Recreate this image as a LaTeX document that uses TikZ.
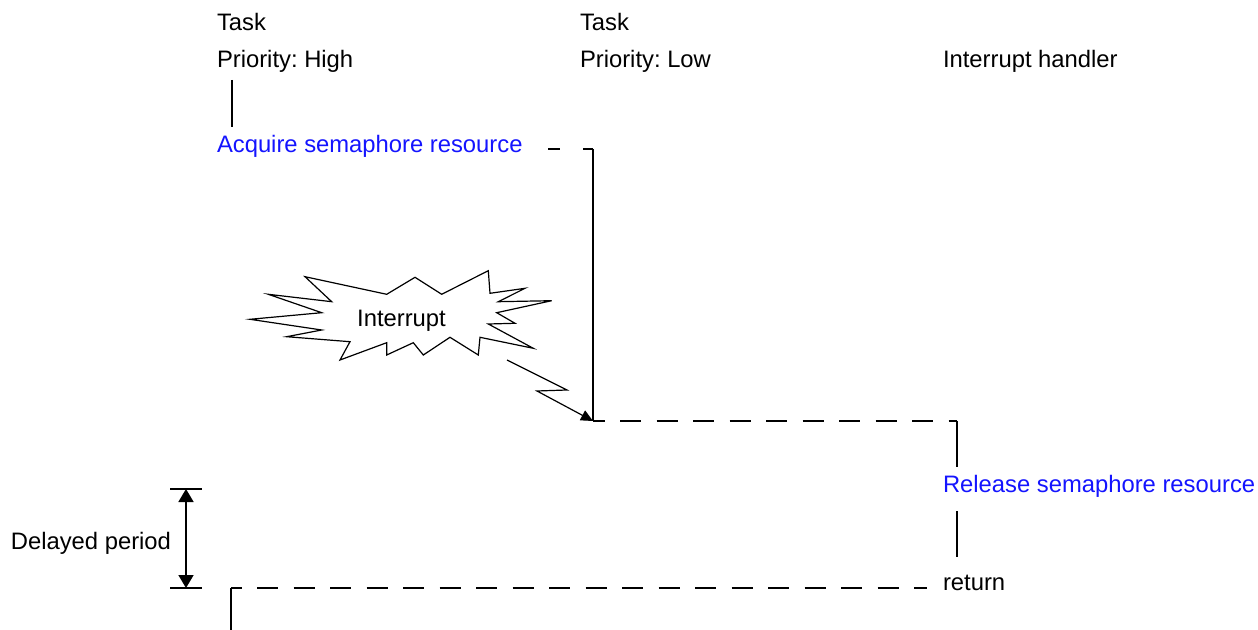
\documentclass[tikz,border=0pt]{standalone}
\usepackage{fontspec}
\setmainfont{Liberation Sans}
\usetikzlibrary{arrows.meta}
\definecolor{semblue}{RGB}{20,20,255}
\frenchspacing
\begin{document}
\begin{tikzpicture}[x=0.5pt,y=-0.5pt,
  lbl/.style={anchor=base west, inner sep=0pt, outer sep=0pt, font=\fontsize{11.9}{14}\selectfont},
  sem/.style={lbl, text=semblue},
  solidline/.style={line width=1pt},
  dashline/.style={line width=1pt, dash pattern=on 10.5pt off 7.75pt},
  thinline/.style={line width=0.6pt, line join=miter},
  dimarrow/.style={line width=0.9pt, {Triangle[width=7.5pt,length=6.5pt]}-{Triangle[width=7.5pt,length=6.5pt]}},
  bolt/.style={line width=0.6pt, -{Triangle[width=5.5pt,length=6pt]}}
]
\useasboundingbox (0,0) rectangle (1258,630);

% column headers
\node[lbl] (task1) at (217,31) {Task};
\node[lbl] (prio1) at (217,68) {Priority: High};
\node[lbl] (task2) at (580,31) {Task};
\node[lbl] (prio2) at (580,68) {Priority: Low};
\node[lbl] (handler) at (943,68) {Interrupt handler};

% events
\node[sem] (acquire) at (217,153) {Acquire semaphore resource};
\node[sem] (release) at (943,493) {Release semaphore resource};
\node[lbl] (ret) at (943,590) {return};
\node[lbl, anchor=base east] (delayed) at (171,549) {Delayed period};

% high priority task line
\coordinate (hA) at (232,80);
\coordinate (hB) at (232,127);
\draw[solidline] (hA) -- (hB);

% switch to low priority task
\coordinate (a1) at (548,149);
\coordinate (a2) at (593,149);
\coordinate (low) at (593,421);
\draw[line width=1pt, dash pattern=on 6pt off 11.5pt] (a1) -- (a2);
\draw[solidline] (a2) -- (low);

% switch to interrupt handler
\coordinate (r1) at (957,421);
\coordinate (r2) at (957,467);
\coordinate (r3) at (957,511);
\coordinate (r4) at (957,557);
\draw[dashline, dash phase=4.75pt] (low) -- (r1);
\draw[solidline] (r1) -- (r2);
\draw[solidline] (r3) -- (r4);

% return to high priority task
\coordinate (b0) at (231,588);
\coordinate (b1) at (927,588);
\coordinate (b2) at (231,630);
\draw[dashline, dash phase=5.25pt] (b0) -- (b1);
\draw[solidline] (b0) -- (b2);

% delayed period
\coordinate (d1) at (170,489);
\coordinate (d2) at (202,489);
\coordinate (d3) at (170,588);
\coordinate (d4) at (202,588);
\coordinate (dt) at (186,489);
\coordinate (db) at (186,588);
\draw[solidline] (d1) -- (d2);
\draw[solidline] (d3) -- (d4);
\draw[dimarrow] (dt) -- (db);

% interrupt burst
\draw[thinline] (250,319.3) -- (321.7,312.7) -- (268.3,294.3) -- (331.7,301.7)
  -- (305,276.7) -- (386.7,294.3) -- (415,277.3) -- (441.7,294.3)
  -- (488.3,270.7) -- (490,293.3) -- (525,288.3) -- (498.3,301.7)
  -- (551.7,300.7) -- (496.7,312.7) -- (515,323.3) -- (488.3,324)
  -- (533.3,348.3) -- (480,337.3) -- (478.3,355) -- (450,337.3)
  -- (423.3,355) -- (413.3,342.7) -- (386.7,355) -- (386.7,342.7)
  -- (340,360) -- (350,341.7) -- (286.7,336.7) -- (321.7,330) -- cycle;
\node[lbl, anchor=base] (interrupt) at (401.5,327) {Interrupt};

% lightning arrow
\coordinate (l0) at (507,360);
\coordinate (l1) at (567,390);
\coordinate (l2) at (537,391);
\draw[bolt] (l0) -- (l1) -- (l2) -- (low);
\end{tikzpicture}
\end{document}
